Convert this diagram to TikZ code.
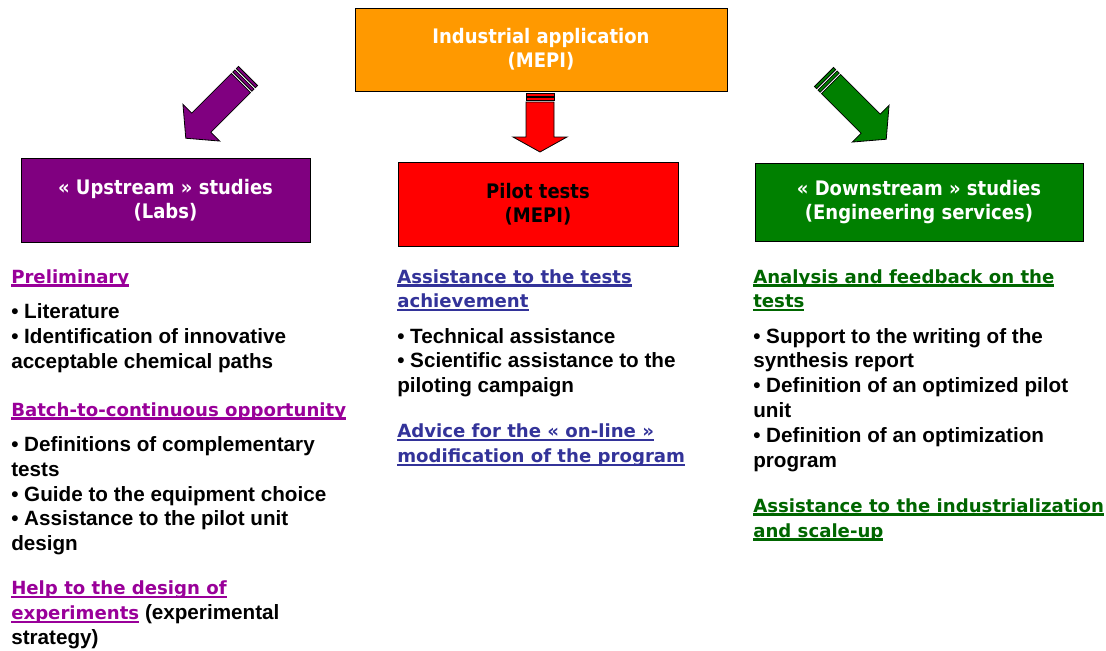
\documentclass[tikz,border=0pt]{standalone}
\usepackage{fontspec}
\setmainfont{Liberation Sans}
\newfontfamily\boxfont{DejaVu Sans Condensed}
\newfontfamily\headfont{DejaVu Sans}

\definecolor{mepicol}{HTML}{FF9900}
\definecolor{upcol}{HTML}{800080}
\definecolor{pilotcol}{HTML}{FF0000}
\definecolor{downcol}{HTML}{008000}
\definecolor{uphead}{HTML}{990099}
\definecolor{pilothead}{HTML}{333399}
\definecolor{downhead}{HTML}{006600}

\newcommand\topicline[1]{\setbox0\hbox{#1}\rlap{\rule[-2.6pt]{\wd0}{1.8pt}}\box0}
\newcommand\headstyle{\headfont\bfseries\fontsize{13.6}{18.6}\selectfont}

\tikzset{
  stagebox/.style={draw=black, line width=0.6pt, align=center, inner sep=0pt,
    font=\boxfont\bfseries\fontsize{15}{18}\selectfont, text=white},
  textcol/.style={inner sep=0pt, align=left, anchor=north west,
    font=\fontsize{15.5}{18.6}\selectfont\bfseries},
  arrowpart/.style={draw=black, line width=0.6pt},
}

\begin{document}
\begin{tikzpicture}[x=0.75pt, y=-0.75pt]
\useasboundingbox (0,0) rectangle (1106,650);

% boxes
\node[stagebox, fill=mepicol, minimum width=279pt, minimum height=62.25pt] (mepi) at (541,49.5) {Industrial application\\(MEPI)};
\node[stagebox, fill=upcol, minimum width=216.75pt, minimum height=63pt] (up) at (165.5,200) {« Upstream » studies\\(Labs)};
\node[stagebox, fill=pilotcol, text=black, minimum width=210pt, minimum height=63pt] (pilot) at (538,204) {Pilot tests\\(MEPI)};
\node[stagebox, fill=downcol, minimum width=246pt, minimum height=58.5pt] (down) at (919,202) {« Downstream » studies\\(Engineering services)};

% striped arrows
\begin{scope}[shift={(248,76)}, rotate=-45]
  \filldraw[arrowpart, fill=upcol] (-13.5,0) rectangle (13.5,3);
  \filldraw[arrowpart, fill=upcol] (-13.5,5) rectangle (13.5,8);
  \filldraw[arrowpart, fill=upcol] (-13.5,10) -- (13.5,10) -- (13.5,66) -- (26,66) -- (0,88) -- (-26,66) -- (-13.5,66) -- cycle;
\end{scope}
\begin{scope}[shift={(540,93)}]
  \filldraw[arrowpart, fill=pilotcol] (-14,0) rectangle (14,3);
  \filldraw[arrowpart, fill=pilotcol] (-14,4.5) rectangle (14,7.5);
  \filldraw[arrowpart, fill=pilotcol] (-14,9) -- (14,9) -- (14,44) -- (27,44) -- (0,59) -- (-27,44) -- (-14,44) -- cycle;
\end{scope}
\begin{scope}[shift={(824,77)}, rotate=45]
  \filldraw[arrowpart, fill=downcol] (-13.5,0) rectangle (13.5,3);
  \filldraw[arrowpart, fill=downcol] (-13.5,5) rectangle (13.5,8);
  \filldraw[arrowpart, fill=downcol] (-13.5,10) -- (13.5,10) -- (13.5,66) -- (26,66) -- (0,88) -- (-26,66) -- (-13.5,66) -- cycle;
\end{scope}

% columns
\node[textcol] (uptext) at (11,269) {%
{\headstyle\color{uphead}\topicline{Preliminary}}\\[8pt]
• Literature\\
• Identification of innovative\\
acceptable chemical paths\\[17.5pt]
{\headstyle\color{uphead}\topicline{Batch-to-continuous opportunity}}\\[7.8pt]
• Definitions of complementary\\
tests\\
• Guide to the equipment choice\\
• Assistance to the pilot unit\\
design\\[14.5pt]
{\headstyle\color{uphead}\topicline{Help to the design of}}\\
{\headstyle\color{uphead}\topicline{experiments}} (experimental\\
strategy)};

\node[textcol] (pilottext) at (397,269) {%
{\headstyle\color{pilothead}\topicline{Assistance to the tests}}\\
{\headstyle\color{pilothead}\topicline{achievement}}\\[7.8pt]
• Technical assistance\\
• Scientific assistance to the\\
piloting campaign\\[15.3pt]
{\headstyle\color{pilothead}\topicline{Advice for the « on-line »}}\\
{\headstyle\color{pilothead}\topicline{modification of the program}}};

\node[textcol] (downtext) at (753,269) {%
{\headstyle\color{downhead}\topicline{Analysis and feedback on the}}\\
{\headstyle\color{downhead}\topicline{tests}}\\[7.8pt]
• Support to the writing of the\\
synthesis report\\
• Definition of an optimized pilot\\
unit\\
• Definition of an optimization\\
program\\[15.3pt]
{\headstyle\color{downhead}\topicline{Assistance to the industrialization}}\\
{\headstyle\color{downhead}\topicline{and scale-up}}};

\end{tikzpicture}
\end{document}
